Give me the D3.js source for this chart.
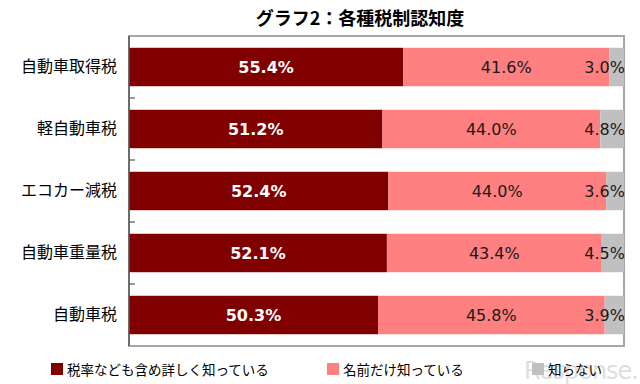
<!DOCTYPE html>
<html>
<head>
<meta charset="utf-8">
<script src="https://cdn.jsdelivr.net/npm/d3@7/dist/d3.min.js"></script>
<style>
  html, body { margin: 0; padding: 0; background: #fff; }
  svg { display: block; }
</style>
</head>
<body>
<svg id="chart" width="640" height="384"></svg>
<script>
const title = "グラフ2：各種税制認知度";
const categories = ["自動車取得税", "軽自動車税", "エコカー減税", "自動車重量税", "自動車税"];
const seriesNames = ["税率なども含め詳しく知っている", "名前だけ知っている", "知らない"];
const detailed = [55.4, 51.2, 52.4, 52.1, 50.3];
const nameOnly = [41.6, 44.0, 44.0, 43.4, 45.8];
const unknown = [3.0, 4.8, 3.6, 4.5, 3.9];
const colors = ["#800000", "#ff8080", "#c0c0c0"];

const rows = categories.map((c, i) => ({ cat: c, s0: detailed[i], s1: nameOnly[i], s2: unknown[i] }));
const keys = ["s0", "s1", "s2"];
const stacked = d3.stack().keys(keys)(rows);

const svg = d3.select("#chart");
const cjk = "'Noto Sans CJK JP', 'Noto Sans', sans-serif";
const num = "'DejaVu Sans', Verdana, sans-serif";

const pL = 129, pR = 624, pT = 36, pB = 346;
const x = d3.scaleLinear().domain([0, 100]).range([pL, pR]);
const y = d3.scaleBand().domain(categories).range([pT, pB]).paddingInner(0.38).paddingOuter(0.19);

// watermark (behind everything)
svg.append("text").attr("x", 638).attr("y", 379).attr("text-anchor", "end")
  .attr("font-family", "'DejaVu Sans', sans-serif").attr("font-size", 24)
  .attr("fill", "#dedede").attr("letter-spacing", -1).text("Response.");

// title
svg.append("text").attr("x", 360).attr("y", 25).attr("text-anchor", "middle")
  .attr("font-family", cjk).attr("font-weight", "bold").attr("font-size", 18)
  .attr("fill", "#000").text(title);

// plot frame
svg.append("rect").attr("x", pL).attr("y", pT).attr("width", pR - pL).attr("height", pB - pT)
  .attr("fill", "none").attr("stroke", "#a6a6a6").attr("stroke-width", 2);

// bars
const g = svg.append("g");
stacked.forEach((layer, li) => {
  g.selectAll(null).data(layer).enter().append("rect")
    .attr("x", d => x(d[0]))
    .attr("y", d => y(d.data.cat))
    .attr("width", d => x(d[1]) - x(d[0]))
    .attr("height", y.bandwidth())
    .attr("fill", colors[li]);
});

// left axis
const yAxis = d3.axisLeft(y).tickSize(0).tickPadding(12);
const ax = svg.append("g").attr("transform", `translate(${pL},0)`).call(yAxis);
ax.select(".domain").remove();
ax.selectAll("text").attr("font-family", cjk).attr("font-size", 16).attr("fill", "#000");
svg.append("line").attr("x1", pL).attr("x2", pL).attr("y1", pT).attr("y2", pB)
  .attr("stroke", "#595959").attr("stroke-width", 1.5);
// ticks at band boundaries (inside)
const bounds = categories.map(c => y(c) - y.step() * y.paddingInner() / 2).slice(1);
svg.selectAll(null).data(bounds).enter().append("line")
  .attr("x1", pL).attr("x2", pL + 6).attr("y1", d => d).attr("y2", d => d)
  .attr("stroke", "#595959").attr("stroke-width", 1.2);

// value labels
stacked.forEach((layer, li) => {
  g.selectAll(null).data(layer).enter().append("text")
    .attr("x", d => li === 2 ? pR + 1 : (x(d[0]) + x(d[1])) / 2)
    .attr("y", d => y(d.data.cat) + y.bandwidth() / 2 + 6)
    .attr("text-anchor", li === 2 ? "end" : "middle")
    .attr("font-family", num)
    .attr("font-size", 16)
    .attr("font-weight", li === 0 ? "bold" : "normal")
    .attr("fill", li === 0 ? "#fff" : "#1a1a1a")
    .text(d => (d[1] - d[0]).toFixed(1) + "%");
});

// legend
const legendX = [51, 327, 532];
const lg = svg.append("g");
seriesNames.forEach((n, i) => {
  lg.append("rect").attr("x", legendX[i]).attr("y", 363).attr("width", 12).attr("height", 12).attr("fill", colors[i]);
  lg.append("text").attr("x", legendX[i] + 16).attr("y", 374.5)
    .attr("font-family", cjk).attr("font-size", 13.5).attr("fill", "#000").text(n);
});
</script>
</body>
</html>
